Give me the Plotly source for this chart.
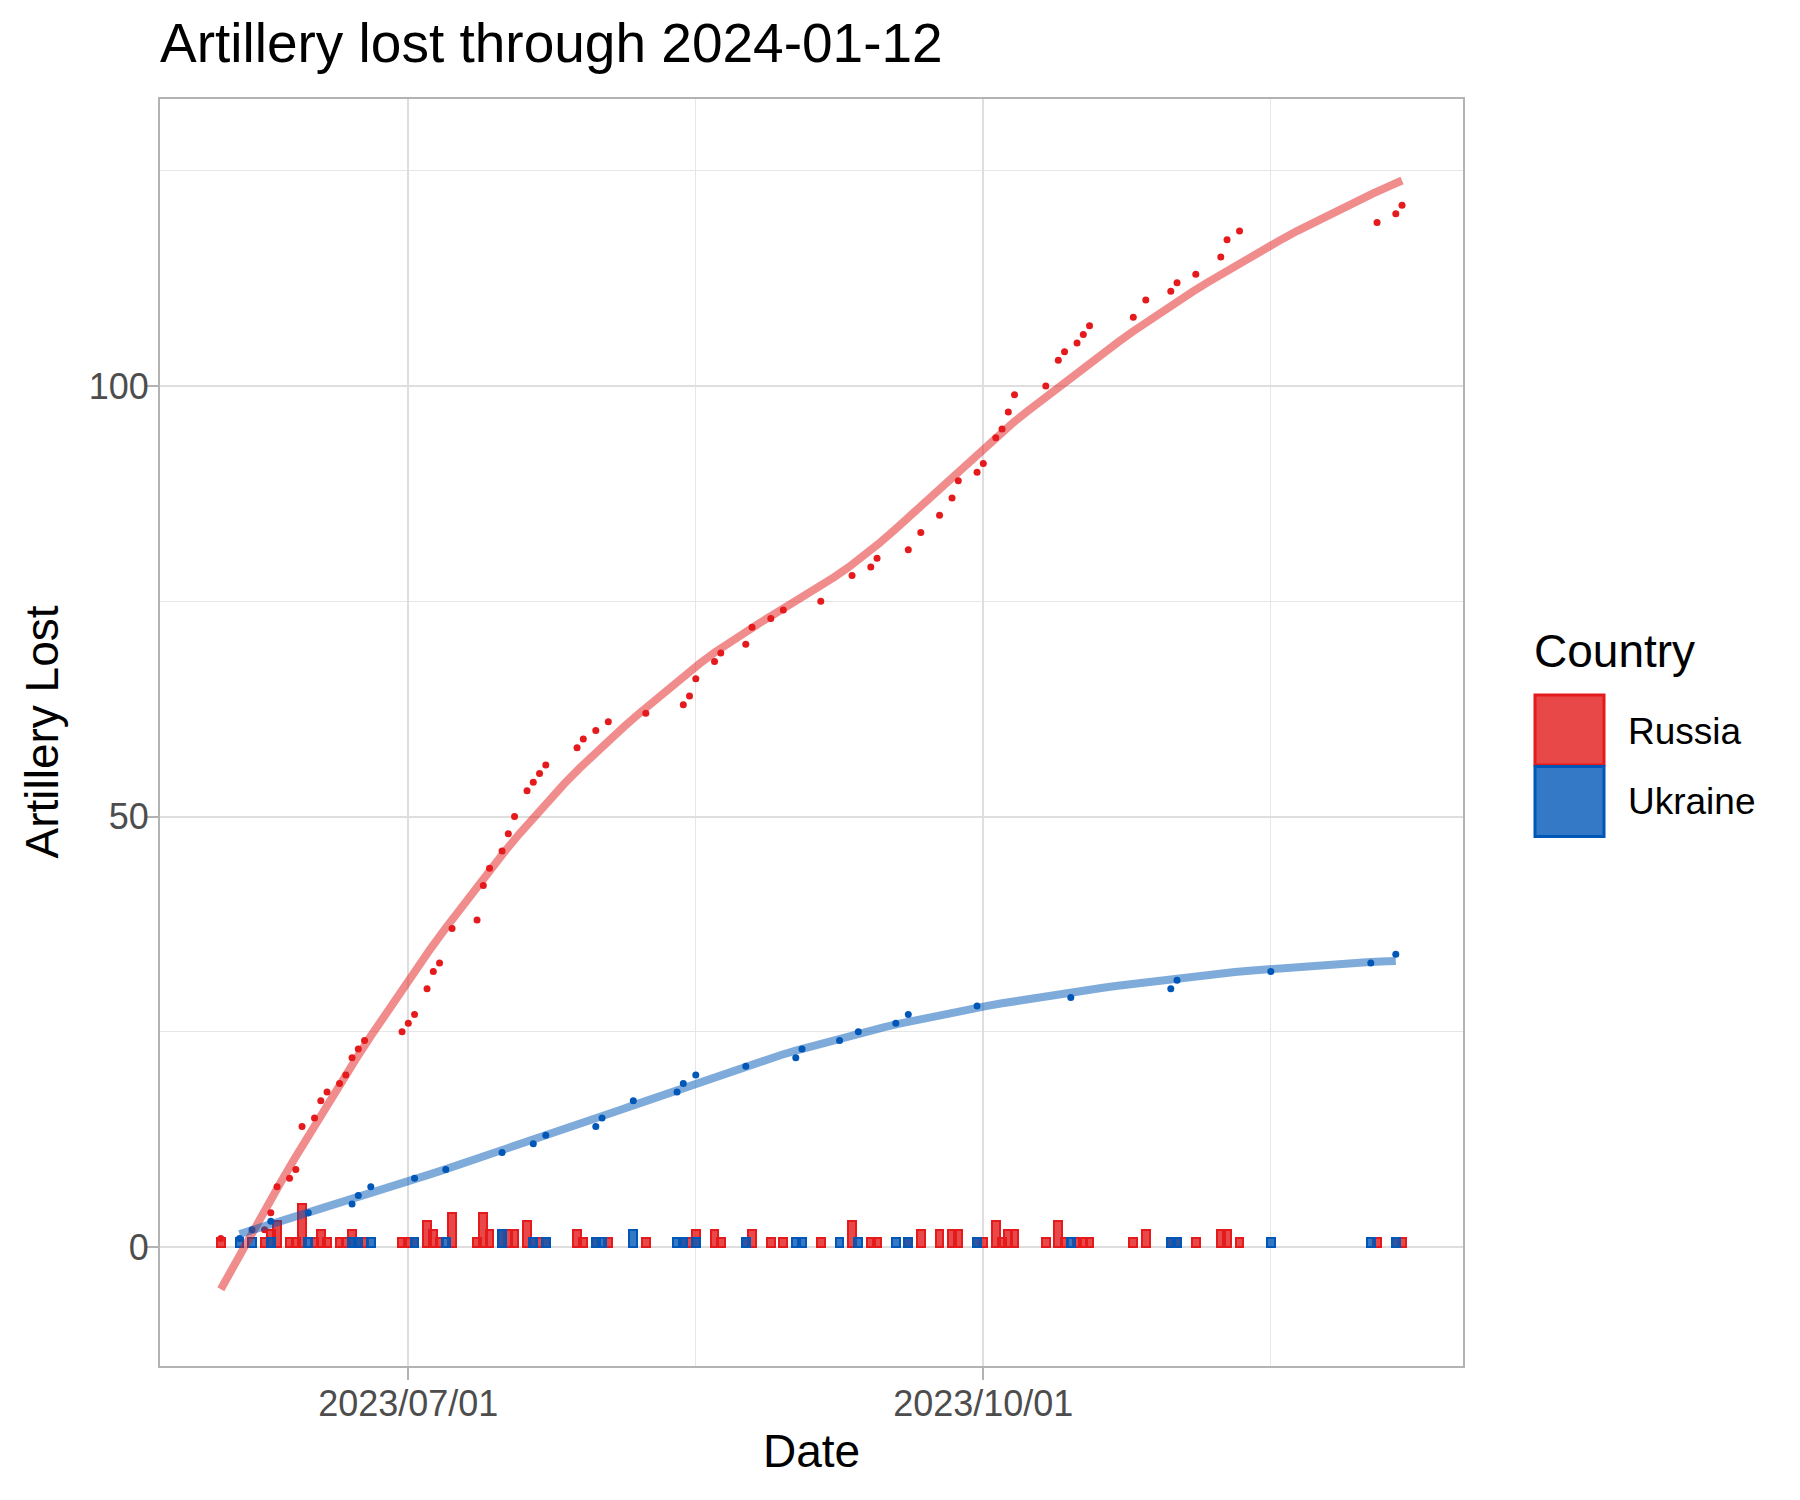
import numpy as np
import pandas as pd
import plotly.graph_objects as go

# ---------------- data ----------------
russia_dates = [
    "2023-06-01", "2023-06-08", "2023-06-09", "2023-06-10", "2023-06-12", "2023-06-13",
    "2023-06-14", "2023-06-16", "2023-06-17", "2023-06-18", "2023-06-20", "2023-06-21",
    "2023-06-22", "2023-06-23", "2023-06-24", "2023-06-30", "2023-07-01", "2023-07-02",
    "2023-07-04", "2023-07-05", "2023-07-06", "2023-07-08", "2023-07-12", "2023-07-13",
    "2023-07-14", "2023-07-16", "2023-07-17", "2023-07-18", "2023-07-20", "2023-07-21",
    "2023-07-22", "2023-07-23", "2023-07-28", "2023-07-29", "2023-07-31", "2023-08-02",
    "2023-08-08", "2023-08-14", "2023-08-15", "2023-08-16", "2023-08-19", "2023-08-20",
    "2023-08-24", "2023-08-25", "2023-08-28", "2023-08-30", "2023-09-05", "2023-09-10",
    "2023-09-13", "2023-09-14", "2023-09-19", "2023-09-21", "2023-09-24", "2023-09-26",
    "2023-09-27", "2023-09-30", "2023-10-01", "2023-10-03", "2023-10-04", "2023-10-05",
    "2023-10-06", "2023-10-11", "2023-10-13", "2023-10-14", "2023-10-16", "2023-10-17",
    "2023-10-18", "2023-10-25", "2023-10-27", "2023-10-31", "2023-11-01", "2023-11-04",
    "2023-11-08", "2023-11-09", "2023-11-11", "2023-12-03", "2023-12-06", "2023-12-07",
]
russia_daily = [
    1, 1, 2, 3, 1, 1,
    5, 1, 2, 1, 1, 1,
    2, 1, 1, 1, 1, 1,
    3, 2, 1, 4, 1, 4,
    2, 2, 2, 2, 3, 1,
    1, 1, 2, 1, 1, 1,
    1, 1, 1, 2, 2, 1,
    1, 2, 1, 1, 1, 3,
    1, 1, 1, 2, 2, 2,
    2, 1, 1, 3, 1, 2,
    2, 1, 3, 1, 1, 1,
    1, 1, 2, 1, 1, 1,
    2, 2, 1, 1, 1, 1,
]

ukraine_dates = [
    "2023-06-04", "2023-06-06", "2023-06-09", "2023-06-15", "2023-06-22", "2023-06-23",
    "2023-06-25", "2023-07-02", "2023-07-07", "2023-07-16", "2023-07-21", "2023-07-23",
    "2023-07-31", "2023-08-01", "2023-08-06", "2023-08-13", "2023-08-14", "2023-08-16",
    "2023-08-24", "2023-09-01", "2023-09-02", "2023-09-08", "2023-09-11", "2023-09-17",
    "2023-09-19", "2023-09-30", "2023-10-15", "2023-10-31", "2023-11-01", "2023-11-16",
    "2023-12-02", "2023-12-06",
]
ukraine_daily = [
    1, 1, 1, 1, 1, 1,
    1, 1, 1, 2, 1, 1,
    1, 1, 2, 1, 1, 1,
    1, 1, 1, 1, 1, 1,
    1, 1, 1, 1, 1, 1,
    1, 1,
]

countries = ["Russia", "Ukraine"]
x_tick_dates = ["2023-07-01", "2023-10-01"]
x_minor_dates = ["2023-08-16", "2023-11-16"]
y_major = [0, 50, 100]
y_minor = [25, 75, 125]

# ---------------- styles ----------------
FONT = "Liberation Sans, Arial, Helvetica, sans-serif"
RED = "#E41A1C"
BLUE = "#0057B7"
RED_FILL = "rgba(228,26,28,0.8)"
BLUE_FILL = "rgba(0,87,183,0.8)"
RED_LINE = "rgba(228,26,28,0.5)"
BLUE_LINE = "rgba(0,87,183,0.5)"

W, H = 1800, 1500
OFF = 8  # page body margin
# panel box in page pixels
PL, PR, PT, PB = 160, 1463, 98.5, 1366.5


def px(x):
    return (x - PL) / (PR - PL)


def py(y):
    return (PB - y) / (PB - PT)


# ---------------- loess (R style: kd-tree vertices + cubic Hermite) ----------------
def local_fit(x, y, x0, q):
    d = np.abs(x - x0)
    rho = np.sort(d)[q - 1]
    w = np.clip(1 - (d / rho) ** 3, 0, None) ** 3
    X = np.vstack([np.ones(len(x)), x - x0, (x - x0) ** 2]).T
    sw = np.sqrt(w)
    beta = np.linalg.lstsq(X * sw[:, None], y * sw, rcond=None)[0]
    return beta[0], beta[1]


def loess(x, y, xs, span=0.75, cell=0.2):
    n = len(x)
    q = int(np.floor(n * span + 1e-5))
    fc = int(np.floor(n * span * cell))
    sx = np.sort(x)
    mu = 0.005 * (sx[-1] - sx[0])
    verts = [sx[0] - mu, sx[-1] + mu]

    def split(l, u):
        if u - l + 1 <= fc:
            return
        m = (l + u) // 2
        verts.append((sx[m - 1] + sx[m]) / 2)
        split(l, m)
        split(m + 1, u)

    split(1, n)
    verts = np.array(sorted(verts))
    vals = np.array([local_fit(x, y, v, q) for v in verts])
    out = []
    for x0 in xs:
        i = min(max(np.searchsorted(verts, x0) - 1, 0), len(verts) - 2)
        a, b = verts[i], verts[i + 1]
        hh = b - a
        t = (x0 - a) / hh
        phi0 = (1 - t) ** 2 * (1 + 2 * t)
        phi1 = t ** 2 * (3 - 2 * t)
        psi0 = t * (1 - t) ** 2
        psi1 = -t ** 2 * (1 - t)
        out.append(phi0 * vals[i, 0] + phi1 * vals[i + 1, 0]
                   + (psi0 * vals[i, 1] + psi1 * vals[i + 1, 1]) * hh)
    return np.array(out)


ref = pd.Timestamp("2023-07-01")
fig = go.Figure()

series = [
    ("Russia", russia_dates, russia_daily, RED, RED_FILL, RED_LINE),
    ("Ukraine", ukraine_dates, ukraine_daily, BLUE, BLUE_FILL, BLUE_LINE),
]

bar_w = 1.25 * 86400000

# bars
for name, dates, daily, col, fill, lcol in series:
    d = pd.to_datetime(dates)
    fig.add_trace(go.Bar(
        x=d, y=daily, width=bar_w, name=name, showlegend=False,
        marker=dict(color=fill, line=dict(color=col, width=2)),
    ))

# points (cumulative)
for name, dates, daily, col, fill, lcol in series:
    d = pd.to_datetime(dates)
    cum = np.cumsum(daily)
    fig.add_trace(go.Scatter(
        x=d, y=cum, mode="markers", name=name, showlegend=False,
        marker=dict(color=col, size=7),
    ))

# smooth (loess of the cumulative points, 80 evaluation points)
for name, dates, daily, col, fill, lcol in series:
    d = pd.to_datetime(dates)
    cum = np.cumsum(daily).astype(float)
    xd = np.array((d - ref) / pd.Timedelta(days=1), dtype=float)
    xs = np.linspace(xd.min(), xd.max(), 80)
    ys = loess(xd, cum, xs)
    fig.add_trace(go.Scatter(
        x=ref + pd.to_timedelta(xs, unit="D"), y=ys, mode="lines", name=name,
        showlegend=False, line=dict(color=lcol, width=8),
    ))

x0 = ref + pd.Timedelta(days=(PL - 408.3) / 6.25)
x1 = ref + pd.Timedelta(days=(PR - 408.3) / 6.25)

fig.update_layout(
    width=W, height=H,
    margin=dict(l=PL - OFF, r=W - (PR - OFF), t=PT - OFF, b=H - (PB - OFF)),
    paper_bgcolor="white", plot_bgcolor="white",
    barmode="overlay", bargap=0,
    font=dict(family=FONT, color="black"),
    title=dict(text="Artillery lost through 2024-01-12", font=dict(size=55, color="black"),
               xref="paper", x=0, xanchor="left", yref="container",
               y=1 - 15.5 / H, yanchor="top"),
    showlegend=False,
    xaxis=dict(
        type="date", range=[x0, x1],
        tickmode="array", tickvals=x_tick_dates, tickformat="%Y/%m/%d",
        tickfont=dict(size=36, color="#4D4D4D"), ticklabelstandoff=-7,
        ticks="outside", ticklen=12, tickwidth=2, tickcolor="#B3B3B3",
        showgrid=True, gridcolor="#DEDEDE", gridwidth=2,
        minor=dict(tickmode="array", tickvals=x_minor_dates, showgrid=True,
                   gridcolor="#E6E6E6", gridwidth=1.2, ticks=""),
        showline=True, linecolor="#B3B3B3", linewidth=2, mirror=True,
        zeroline=False,
    ),
    yaxis=dict(
        range=[-13.81, 133.34],
        tickmode="array", tickvals=y_major,
        tickfont=dict(size=36, color="#4D4D4D"), ticklabelstandoff=-10,
        ticks="outside", ticklen=12, tickwidth=2, tickcolor="#B3B3B3",
        showgrid=True, gridcolor="#DEDEDE", gridwidth=2,
        minor=dict(tickmode="array", tickvals=y_minor, showgrid=True,
                   gridcolor="#E6E6E6", gridwidth=1.2, ticks=""),
        showline=True, linecolor="#B3B3B3", linewidth=2, mirror=True,
        zeroline=False,
    ),
)

# axis titles
fig.add_annotation(text="Date", xref="paper", yref="paper", x=px(811.5), y=py(1452),
                   xanchor="center", yanchor="middle", showarrow=False,
                   font=dict(size=46, color="black"))
fig.add_annotation(text="Artillery Lost", xref="paper", yref="paper", x=px(41), y=py(732.5),
                   xanchor="center", yanchor="middle", showarrow=False, textangle=-90,
                   font=dict(size=46, color="black"))

# legend (drawn manually to match the large ggplot keys)
fig.add_annotation(text="Country", xref="paper", yref="paper", x=px(1532), y=py(651),
                   xanchor="left", yanchor="middle", showarrow=False,
                   font=dict(size=46, color="black"))
key_specs = [(countries[0], RED, RED_FILL, 695, 765, 731),
             (countries[1], BLUE, BLUE_FILL, 766.5, 836.5, 802)]
for name, col, fill, ky0, ky1, ty in key_specs:
    fig.add_shape(type="rect", xref="paper", yref="paper",
                  x0=px(1535), x1=px(1604), y0=py(ky1), y1=py(ky0),
                  fillcolor=fill, line=dict(color=col, width=3))
    fig.add_annotation(text=name, xref="paper", yref="paper", x=px(1626), y=py(ty),
                       xanchor="left", yanchor="middle", showarrow=False,
                       font=dict(size=37, color="black"))

fig.write_html("out.html")
